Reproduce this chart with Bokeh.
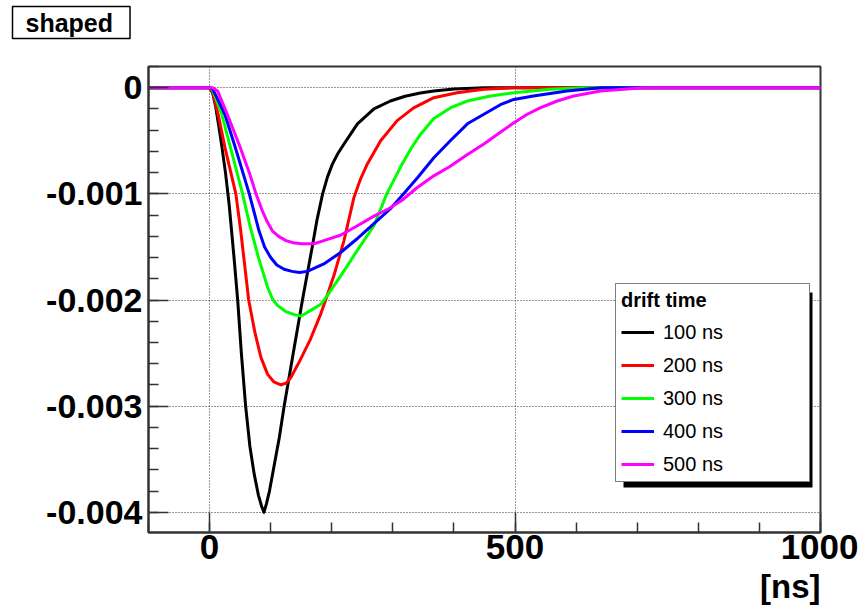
from bokeh.plotting import figure
from bokeh.models import (Range1d, FixedTicker, CustomJSTickFormatter, Legend, LegendItem,
                          Title, BoxAnnotation)
from bokeh.embed import file_html
from bokeh.resources import INLINE
import numpy as np

# ---------------- data ----------------
series_labels = ["100 ns", "200 ns", "300 ns", "400 ns", "500 ns"]
series_colors = ["#000000", "#ff0000", "#00ff00", "#0000ff", "#ff00ff"]

t_100 = [-100, 0, 5, 10, 15, 20, 26, 32, 40, 46, 52, 59, 66, 73, 80, 85, 89, 93, 98, 106, 114, 122,
         137, 152, 168, 176, 185, 193, 201, 210, 220, 242, 269, 296, 320, 345, 367, 400, 450, 1000]
v_100 = [0, 0, -0.00005, -0.00018, -0.00036, -0.00055, -0.0008, -0.0011, -0.0016, -0.002, -0.0025,
         -0.003, -0.00338, -0.00364, -0.00384, -0.00394, -0.004, -0.00392, -0.0038, -0.00355,
         -0.0033, -0.003, -0.0025, -0.002, -0.0015, -0.00124, -0.001, -0.00084, -0.00072, -0.00062,
         -0.00053, -0.00034, -0.0002, -0.000125, -0.00008, -0.00005, -0.00003, -0.000012, 0, 0]

t_200 = [-100, 0, 5, 14, 25, 43, 51, 64, 74, 84, 95, 105, 117, 126, 133, 147, 165, 182, 190, 204,
         220, 236, 247, 258, 280, 307, 334, 367, 405, 449, 498, 1000]
v_200 = [0, 0, -0.00004, -0.00025, -0.00056, -0.001, -0.00135, -0.002, -0.0023, -0.00254, -0.0027,
         -0.00277, -0.0028, -0.00278, -0.00273, -0.00258, -0.00237, -0.00213, -0.002, -0.00176,
         -0.00144, -0.00104, -0.00086, -0.00072, -0.0005, -0.00031, -0.00019, -0.000094,
         -0.000047, -0.000015, 0, 0]

t_300 = [-100, 0, 5, 20, 34, 54, 66, 80, 95, 103, 111, 125, 140, 150, 165, 182, 190, 215, 242, 269,
         290, 315, 330, 345, 367, 394, 422, 460, 498, 558, 612, 1000]
v_300 = [0, 0, -0.00002, -0.00025, -0.00056, -0.001, -0.0013, -0.0016, -0.00188, -0.00199,
         -0.00205, -0.00211, -0.00214, -0.00215, -0.0021, -0.00204, -0.00198, -0.00177, -0.00153,
         -0.0013, -0.001, -0.00072, -0.00057, -0.00044, -0.00029, -0.00019, -0.000125, -0.000078,
         -0.000047, -0.000015, 0, 0]

t_400 = [-100, 0, 5, 25, 42, 65, 81, 90, 100, 110, 122, 135, 147, 160, 187, 215, 240, 269, 296, 313,
         340, 367, 394, 422, 449, 476, 498, 530, 585, 640, 1000]
v_400 = [0, 0, -0.00001, -0.00025, -0.00056, -0.001, -0.00135, -0.0015, -0.0016, -0.00167,
         -0.00171, -0.00173, -0.00174, -0.00173, -0.00166, -0.00155, -0.00143, -0.00128, -0.00114,
         -0.00103, -0.00085, -0.00066, -0.0005, -0.00034, -0.00025, -0.00016, -0.00011, -0.000078,
         -0.00003, 0, 0]

t_500 = [-100, 0, 5, 13, 29, 50, 65, 76, 87, 95, 103, 113, 125, 137, 150, 171, 187, 214, 242, 269,
         293, 315, 340, 367, 394, 422, 449, 476, 498, 520, 541, 569, 596, 640, 710, 1000]
v_500 = [0, 0, 0, -0.00003, -0.00025, -0.00056, -0.0008, -0.001, -0.00117, -0.00127, -0.00135,
         -0.0014, -0.00144, -0.00146, -0.00147, -0.00147, -0.00144, -0.00139, -0.0013, -0.00121,
         -0.00114, -0.00106, -0.00094, -0.00083, -0.00074, -0.00063, -0.00053, -0.00042, -0.00033,
         -0.00025, -0.00019, -0.000125, -0.000078, -0.00003, 0, 0]

x_ticks = [0, 500, 1000]
x_tick_labels = ["0", "500", "1000"]
y_ticks = [0, -0.001, -0.002, -0.003, -0.004]
y_tick_labels = ["0", "-0.001", "-0.002", "-0.003", "-0.004"]

title_text = "shaped"
x_title = "[ns]"
legend_title = "drift time"

# ---------------- figure ----------------
FONT = "Liberation Sans"
p = figure(width=858, height=611, output_backend="svg", toolbar_location=None,
           x_range=Range1d(-100, 1000), y_range=Range1d(-0.00419, 0.0002),
           min_border_left=148, min_border_right=38, min_border_top=66, min_border_bottom=79)
p.background_fill_color = "white"
p.border_fill_color = "white"
p.outline_line_color = "#333333"
p.outline_line_width = 2

fmt_code = """
const i = tick_values.findIndex(t => Math.abs(t - tick) < 1e-9);
return i >= 0 ? tick_labels[i] : "";
"""

p.xaxis.ticker = FixedTicker(ticks=x_ticks, minor_ticks=list(np.arange(-100, 1001, 100)))
p.xaxis.formatter = CustomJSTickFormatter(args=dict(tick_values=x_ticks, tick_labels=x_tick_labels),
                                          code=fmt_code)
p.yaxis.ticker = FixedTicker(ticks=y_ticks,
                             minor_ticks=[round(v, 6) for v in np.arange(-21, 2) * 0.0002])
p.yaxis.formatter = CustomJSTickFormatter(args=dict(tick_values=y_ticks, tick_labels=y_tick_labels),
                                          code=fmt_code)

for ax in (p.xaxis, p.yaxis):
    ax.major_tick_in = 20
    ax.major_tick_out = 0
    ax.minor_tick_in = 10
    ax.minor_tick_out = 0
    ax.major_tick_line_color = "#333333"
    ax.minor_tick_line_color = "#333333"
    ax.major_tick_line_width = 1.5
    ax.minor_tick_line_width = 1.5
    ax.axis_line_color = "#333333"
    ax.axis_line_width = 2
    ax.major_label_text_font = FONT
    ax.major_label_text_font_style = "bold"
    ax.major_label_text_color = "black"
p.xaxis.major_label_text_font_size = "35px"
p.yaxis.major_label_text_font_size = "34px"
p.xaxis.major_label_standoff = 2
p.yaxis.major_label_standoff = 6

for g in (p.xgrid, p.ygrid):
    g.grid_line_color = "#333333"
    g.grid_line_dash = "1 2"
    g.grid_line_width = 1

renderers = []
for t, v, c in zip([t_100, t_200, t_300, t_400, t_500],
                   [v_100, v_200, v_300, v_400, v_500], series_colors):
    r = p.line(t, v, line_color=c, line_width=3, line_join="round")
    renderers.append(r)

# legend shadow
p.add_layout(BoxAnnotation(left=475, right=664, top=240, bottom=45,
                           left_units="screen", right_units="screen",
                           top_units="screen", bottom_units="screen",
                           fill_color="black", fill_alpha=1, line_color=None))

legend = Legend(items=[LegendItem(label=l, renderers=[r]) for l, r in zip(series_labels, renderers)],
                location=(467, 50))
legend.title = legend_title
legend.title_text_font = FONT
legend.title_text_font_style = "bold"
legend.title_text_font_size = "20px"
legend.title_text_color = "black"
legend.title_standoff = 8
legend.label_text_font = FONT
legend.label_text_font_size = "20px"
legend.label_text_color = "black"
legend.glyph_width = 33
legend.glyph_height = 24
legend.label_height = 24
legend.label_width = 141
legend.spacing = 9
legend.padding = 5
legend.margin = 0
legend.label_standoff = 9
legend.border_line_color = "black"
legend.border_line_width = 1.5
legend.background_fill_color = "white"
legend.background_fill_alpha = 1
p.add_layout(legend)

# spacer above the frame (nearest to the frame), then the boxed title on top
p.add_layout(Title(text=" ", text_font_size="1px", standoff=19), "above")
p.add_layout(Title(text=title_text, text_font=FONT, text_font_style="bold", text_font_size="25px",
                   text_color="black", align="left", offset=-136, vertical_align="top",
                   standoff=8, background_fill_color="white", border_line_color="black",
                   border_line_width=1.5,
                   padding=dict(left=13, right=17, top=2, bottom=2)), "above")

# x axis title, right aligned below the axis
p.add_layout(Title(text=x_title, align="right", text_font=FONT, text_font_style="bold",
                   text_font_size="33px", text_color="black", standoff=9), "below")

open("out.html", "w").write(file_html(p, INLINE))
